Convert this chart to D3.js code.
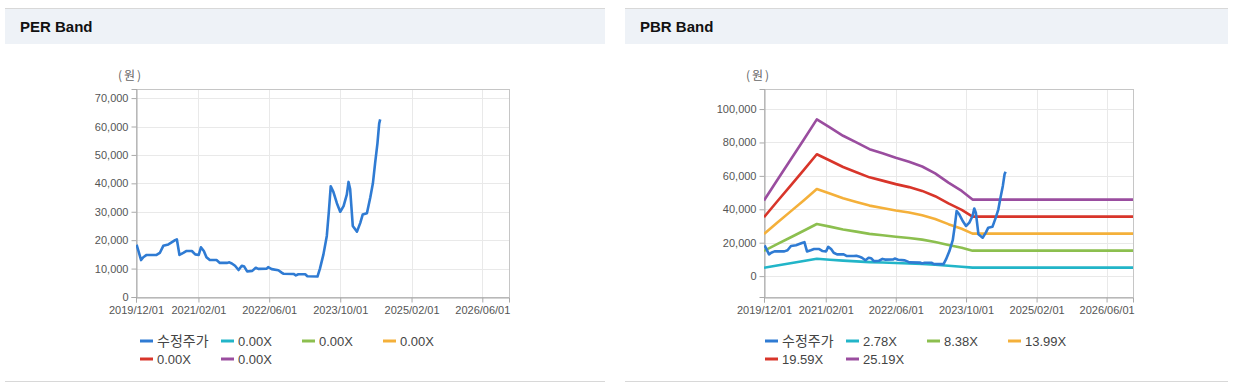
<!DOCTYPE html>
<html><head><meta charset="utf-8">
<script src="https://cdn.jsdelivr.net/npm/d3@7"></script>
<style>
body{margin:0;background:#fff;}
svg{display:block;font-family:"Liberation Sans",Arial,sans-serif;}
</style></head><body>
<svg id="c" width="1238" height="391"></svg>
<script>
// ---------------- DATA ----------------
const priceDates = ["2019-12-05","2020-01-05","2020-01-20","2020-02-12","2020-04-20","2020-05-12","2020-06-05","2020-07-10","2020-08-01","2020-08-25","2020-09-06","2020-09-24","2020-10-20","2020-11-12","2020-12-18","2021-01-10","2021-02-03","2021-02-18","2021-03-10","2021-03-28","2021-04-20","2021-06-05","2021-06-28","2021-08-15","2021-09-01","2021-09-18","2021-10-10","2021-11-03","2021-11-25","2021-12-12","2022-01-01","2022-02-05","2022-03-01","2022-03-18","2022-05-15","2022-05-25","2022-06-18","2022-08-03","2022-08-28","2022-09-06","2022-11-15","2022-12-01","2022-12-18","2023-02-03","2023-02-18","2023-04-28","2023-05-15","2023-06-08","2023-07-01","2023-07-15","2023-07-28","2023-08-15","2023-09-08","2023-10-01","2023-10-24","2023-11-15","2023-11-27","2023-12-08","2023-12-26","2024-01-24","2024-02-15","2024-03-03","2024-04-01","2024-04-24","2024-05-12","2024-05-27","2024-06-12","2024-06-24","2024-07-01"];
const priceValues = [18400,13000,14000,14800,14800,15500,18000,18500,19200,20000,20300,14800,15500,16200,16200,15000,14800,17500,16200,14000,13000,13000,12000,12000,12200,11800,11000,9500,11000,10700,9000,9200,10300,9900,10000,10500,9800,9400,8500,8200,8100,7600,8000,8000,7300,7200,10000,15000,21500,30000,39000,37000,33000,30000,32000,36000,40500,38000,25000,23000,26000,29000,29500,35000,40000,47000,54000,61000,62500];

const bandDates = ["2019-12-01","2020-03-01","2020-06-01","2020-09-01","2020-12-01","2021-03-01","2021-06-01","2021-09-01","2021-12-01","2022-03-01","2022-06-01","2022-09-01","2022-12-01","2023-03-01","2023-06-01","2023-09-01","2023-11-15","2026-12-01"];
const pbrBand278  = [5000,6340,7670,9010,10360,9830,9270,8830,8390,8110,7820,7560,7240,6790,6180,5630,5060,5060];
const pbrBand838  = [15070,19100,23120,27150,31210,29610,27950,26620,25290,24450,23550,22790,21830,20460,18630,16970,15240,15240];
const pbrBand1399 = [25160,31880,38600,45320,52100,49430,46650,44430,42210,40820,39320,38040,36430,34160,31100,28330,25440,25440];
const pbrBand1959 = [35230,44640,54050,63460,72950,69220,65330,62220,59110,57160,55060,53270,51020,47830,43550,39660,35620,35620];
const pbrBand2519 = [45300,57400,69500,81600,93800,89000,84000,80000,76000,73500,70800,68500,65600,61500,56000,51000,45800,45800];
const perBandEmpty = [];

const xTickLabels = ["2019/12/01","2021/02/01","2022/06/01","2023/10/01","2025/02/01","2026/06/01"];
const xDomainLabels = ["2019/12/01","2026/12/01"];
const perYTicks = [0,10000,20000,30000,40000,50000,60000,70000];
const pbrYTicks = [0,20000,40000,60000,80000,100000];
const perYDomain = [0,73200];
const pbrYDomain = [-12500,112000];
const perLegendLabels = ["수정주가","0.00X","0.00X","0.00X","0.00X","0.00X"];
const pbrLegendLabels = ["수정주가","2.78X","8.38X","13.99X","19.59X","25.19X"];
const seriesColors = ["#2f7bd3","#22b5c8","#8cbf4f","#f4b03a","#d8352a","#9a4d9f"];

// ---------------- DRAW ----------------
const svg = d3.select("#c");
const parseDash = d3.timeParse("%Y-%m-%d");
const parseSlash = d3.timeParse("%Y/%m/%d");
const fmtNum = d3.format(",");

const panels = [
  {title:"PER Band", px0:5, px1:605, left:136, right:509, yDomain:perYDomain, yTicks:perYTicks,
   legend:perLegendLabels, legendX:140, unitX:118,
   bands:[perBandEmpty,perBandEmpty,perBandEmpty,perBandEmpty,perBandEmpty]},
  {title:"PBR Band", px0:625, px1:1228, left:764, right:1133, yDomain:pbrYDomain, yTicks:pbrYTicks,
   legend:pbrLegendLabels, legendX:765, unitX:746,
   bands:[pbrBand278,pbrBand838,pbrBand1399,pbrBand1959,pbrBand2519]}
];
const plotTop = 89, plotBottom = 297;

panels.forEach(p => {
  const g = svg.append("g");
  // header
  g.append("line").attr("x1",p.px0).attr("x2",p.px1).attr("y1",8.5).attr("y2",8.5).attr("stroke","#d8d8d8");
  g.append("rect").attr("x",p.px0).attr("y",9).attr("width",p.px1-p.px0).attr("height",35).attr("fill","#eef2f7");
  g.append("text").attr("x",p.px0+15).attr("y",32).attr("font-size",15).attr("font-weight","bold")
    .attr("fill","#111").text(p.title);
  g.append("line").attr("x1",p.px0).attr("x2",p.px1).attr("y1",381.5).attr("y2",381.5).attr("stroke","#d8d8d8");

  const x = d3.scaleTime().domain(xDomainLabels.map(parseSlash)).range([p.left,p.right]);
  const y = d3.scaleLinear().domain(p.yDomain).range([plotBottom,plotTop]);
  const xTicks = xTickLabels.map(parseSlash);

  // grid
  g.append("g").selectAll("line").data(xTicks).join("line")
    .attr("x1",d=>Math.round(x(d))+0.5).attr("x2",d=>Math.round(x(d))+0.5).attr("y1",plotTop).attr("y2",plotBottom)
    .attr("stroke","#e9e9e9");
  g.append("g").selectAll("line").data(p.yTicks).join("line")
    .attr("y1",d=>Math.round(y(d))+0.5).attr("y2",d=>Math.round(y(d))+0.5).attr("x1",p.left).attr("x2",p.right)
    .attr("stroke","#e9e9e9");
  // frame
  g.append("rect").attr("x",p.left+0.5).attr("y",plotTop+0.5).attr("width",p.right-p.left).attr("height",plotBottom-plotTop)
    .attr("fill","none").attr("stroke","#c6c6c6");

  // axes
  const ya = g.append("g").attr("transform",`translate(${p.left+0.5},0)`)
    .call(d3.axisLeft(y).tickValues(p.yTicks).tickSize(5).tickPadding(3).tickFormat(fmtNum));
  ya.select(".domain").attr("stroke","#aaa");
  ya.selectAll(".tick line").attr("stroke","#aaa");
  ya.selectAll("text").attr("font-size",11).attr("fill","#555").attr("font-family","Liberation Sans, Arial, sans-serif");

  const xa = g.append("g").attr("transform",`translate(0,${plotBottom+0.5})`)
    .call(d3.axisBottom(x).tickValues(xTicks).tickSize(5).tickPadding(4).tickFormat(d3.timeFormat("%Y/%m/%d")));
  xa.select(".domain").attr("stroke","#aaa");
  xa.selectAll(".tick line").attr("stroke","#aaa");
  xa.selectAll("text").attr("font-size",11).attr("fill","#555").attr("font-family","Liberation Sans, Arial, sans-serif");

  // unit
  g.append("text").attr("x",p.unitX).attr("y",80).attr("text-anchor","start").attr("font-size",12)
    .attr("fill","#666").attr("letter-spacing","2px").attr("font-family","Noto Sans CJK KR, sans-serif").text("(원)");

  // lines
  const line = d3.line().x(d=>x(d.date)).y(d=>y(d.value));
  const clipId = "clip"+p.left;
  svg.append("clipPath").attr("id",clipId).append("rect")
    .attr("x",p.left).attr("y",plotTop).attr("width",p.right-p.left).attr("height",plotBottom-plotTop);
  const lg = g.append("g").attr("clip-path",`url(#${clipId})`);
  p.bands.forEach((vals,i) => {
    const data = vals.map((v,j)=>({date:parseDash(bandDates[j]), value:v}));
    if (data.length) lg.append("path").datum(data).attr("d",line).attr("fill","none")
      .attr("stroke",seriesColors[i+1]).attr("stroke-width",2.6).attr("stroke-linejoin","round");
  });
  const pdata = priceValues.map((v,j)=>({date:parseDash(priceDates[j]), value:v}));
  lg.append("path").datum(pdata).attr("d",line).attr("fill","none")
    .attr("stroke",seriesColors[0]).attr("stroke-width",2.6).attr("stroke-linejoin","round");

  // legend
  const legG = g.append("g");
  p.legend.forEach((lab,i) => {
    const col = i % 4, row = Math.floor(i/4);
    const lx = p.legendX + col*81, ly = 341 + row*18;
    legG.append("line").attr("x1",lx).attr("x2",lx+13).attr("y1",ly).attr("y2",ly)
      .attr("stroke",seriesColors[i]).attr("stroke-width",3);
    legG.append("text").attr("x",lx+17).attr("y",ly).attr("dy","0.36em").attr("font-size",i===0 ? 14 : 13)
      .attr("fill","#444").attr("font-family", i===0 ? "Noto Sans CJK KR, sans-serif" : "Liberation Sans, Arial, sans-serif")
      .text(lab);
  });
});
</script>
</body></html>
